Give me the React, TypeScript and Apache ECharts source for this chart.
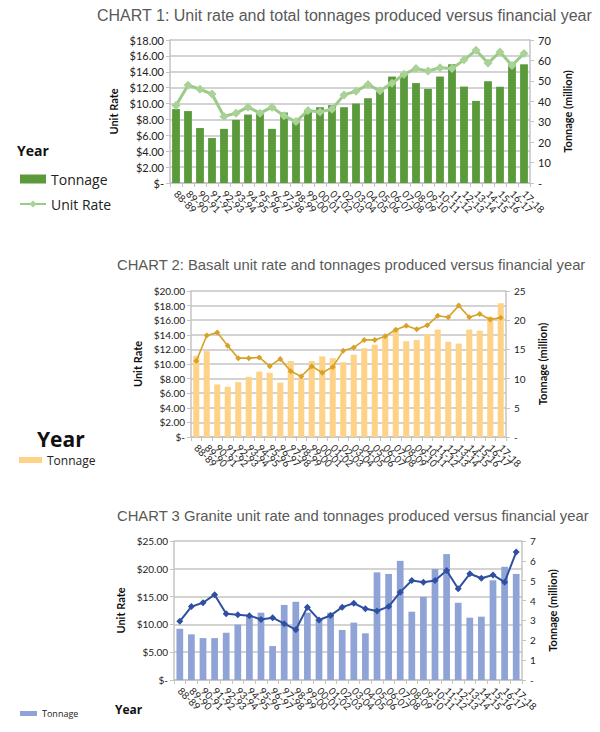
import React, { useEffect, useRef } from "react";
import * as echarts from "echarts";

const categories = [
  "88-89", "89-90", "90-91", "91-92", "92-93", "93-94", "94-95", "95-96", "96-97", "97-98",
  "98-99", "99-00", "00-01", "01-02", "02-03", "03-04", "04-05", "05-06", "06-07", "07-08",
  "08-09", "09-10", "10-11", "11-12", "12-13", "13-14", "14-15", "15-16", "16-17", "17-18",
];

const totalTonnage = [36.2, 35.2, 26.9, 22.0, 26.5, 30.9, 33.5, 33.9, 26.5, 34.5, 30.7, 35.5, 37.1, 38.1, 37.1, 38.9, 41.5, 44.8, 52.1, 53.7, 48.9, 46.1, 52.1, 58.1, 47.2, 40.2, 49.8, 47.1, 58.1, 58.1];
const totalRate = [9.75, 12.3, 11.8, 11.2, 8.37, 8.79, 9.54, 8.79, 9.54, 8.45, 7.74, 9.12, 8.95, 9.29, 11.09, 11.55, 12.4, 11.6, 12.55, 13.7, 14.4, 14.1, 14.5, 14.4, 15.5, 16.7, 15.1, 16.5, 14.8, 16.3];

const basaltTonnage = [13.9, 14.7, 9.0, 8.6, 9.4, 10.3, 11.2, 11.0, 9.3, 13.0, 10.0, 13.0, 13.8, 13.5, 12.8, 14.1, 15.2, 15.8, 17.1, 18.4, 16.4, 16.6, 17.6, 18.4, 16.3, 16.0, 18.4, 18.2, 20.6, 22.9];
const basaltRate = [10.4, 13.9, 14.3, 12.5, 10.8, 10.8, 10.9, 9.7, 10.7, 9.0, 8.3, 9.7, 8.8, 9.6, 11.8, 12.25, 13.3, 13.3, 13.8, 14.7, 15.25, 14.75, 15.3, 16.6, 16.4, 18.0, 16.4, 16.85, 16.1, 16.35];

const graniteTonnage = [2.58, 2.3, 2.11, 2.11, 2.38, 2.79, 3.22, 3.39, 1.71, 3.78, 3.94, 3.39, 3.05, 3.39, 2.52, 2.89, 2.35, 5.42, 5.34, 6.0, 3.44, 4.19, 5.59, 6.34, 3.89, 3.14, 3.19, 5.02, 5.7, 5.34];
const graniteRate = [10.55, 13.2, 13.9, 15.35, 11.9, 11.75, 11.57, 10.9, 11.2, 10.13, 9.05, 13.1, 10.8, 11.6, 13.1, 13.8, 12.8, 12.4, 13.2, 15.8, 17.9, 17.6, 17.9, 19.7, 16.4, 19.1, 18.3, 18.9, 17.6, 23.0];

const titles = [
  "CHART 1: Unit rate and total tonnages produced versus financial year",
  "CHART 2: Basalt unit rate and tonnages produced versus financial year",
  "CHART 3 Granite unit rate and tonnages produced versus financial year",
];

const LABEL_FONT = "Lato, 'Noto Sans', sans-serif";
const TITLE_FONT = "'Liberation Sans', Arial, sans-serif";
const GRID_COLOR = "#c4c4c4";

const dollar = (v: number) => (v === 0 ? "$-" : "$" + v.toFixed(2));
const dash = (v: number) => (v === 0 ? "-" : String(v));

function leftAxis(gridIndex: number, max: number, interval: number, nameGap: number, fontSize: number) {
  return {
    type: "value",
    gridIndex,
    min: 0,
    max,
    interval,
    name: "Unit Rate",
    nameLocation: "middle",
    nameRotate: 90,
    nameGap,
    nameTextStyle: { fontFamily: LABEL_FONT, fontWeight: "bold", fontSize: 11, color: "#111" },
    axisLine: { show: true, lineStyle: { color: GRID_COLOR, width: 1.5 } },
    axisTick: { show: true, length: 4, lineStyle: { color: GRID_COLOR } },
    splitLine: { show: true, lineStyle: { color: GRID_COLOR, width: 1.5 } },
    axisLabel: { formatter: dollar, fontFamily: LABEL_FONT, fontSize, color: "#222", margin: 6 },
  };
}

function rightAxis(gridIndex: number, max: number, interval: number, nameGap: number, fontSize: number) {
  return {
    type: "value",
    gridIndex,
    position: "right",
    min: 0,
    max,
    interval,
    name: "Tonnage (million)",
    nameLocation: "middle",
    nameRotate: 90,
    nameGap,
    nameTextStyle: { fontFamily: LABEL_FONT, fontWeight: "bold", fontSize: 11, color: "#111" },
    axisLine: { show: true, lineStyle: { color: GRID_COLOR, width: 1.5 } },
    axisTick: { show: true, length: 4, lineStyle: { color: GRID_COLOR } },
    splitLine: { show: false },
    axisLabel: { formatter: dash, fontFamily: LABEL_FONT, fontSize, color: "#222", margin: 8 },
  };
}

function catAxis(gridIndex: number) {
  return {
    type: "category",
    gridIndex,
    data: categories,
    boundaryGap: true,
    axisLine: { show: true, lineStyle: { color: GRID_COLOR, width: 1.5 } },
    axisTick: { show: true, length: 4, lineStyle: { color: GRID_COLOR } },
    axisLabel: { interval: 0, rotate: -45, fontFamily: LABEL_FONT, fontSize: 10, color: "#222", margin: 9 },
  };
}

export default function App() {
  const ref = useRef<HTMLDivElement>(null);

  useEffect(() => {
    if (!ref.current) return;
    const chart = echarts.init(ref.current, undefined, { renderer: "svg" });
    const option = {
      animation: false,
      backgroundColor: "#ffffff",
      title: [
        { text: titles[0], left: 97, top: 7, padding: 0, textStyle: { fontFamily: TITLE_FONT, fontSize: 16, fontWeight: "normal", color: "#595959" } },
        { text: titles[1], left: 117, top: 257, padding: 0, textStyle: { fontFamily: TITLE_FONT, fontSize: 14.8, fontWeight: "normal", color: "#595959" } },
        { text: titles[2], left: 117, top: 508, padding: 0, textStyle: { fontFamily: TITLE_FONT, fontSize: 14.8, fontWeight: "normal", color: "#595959" } },
      ],
      grid: [
        { left: 170, top: 40, width: 360, height: 143 },
        { left: 191, top: 291, width: 315, height: 146 },
        { left: 174, top: 541, width: 348, height: 139 },
      ],
      xAxis: [catAxis(0), catAxis(1), catAxis(2)],
      yAxis: [
        leftAxis(0, 18, 2, 48, 11),
        rightAxis(0, 70, 10, 30, 11),
        leftAxis(1, 20, 2, 42, 10),
        rightAxis(1, 25, 5, 28, 10),
        leftAxis(2, 25, 5, 44, 10),
        rightAxis(2, 7, 1, 25, 10),
      ],
      legend: [
        {
          orient: "vertical",
          left: 14,
          top: 167,
          itemWidth: 26,
          itemHeight: 9,
          itemGap: 11,
          data: [
            { name: "Tonnage", icon: "rect" },
            { name: "Unit Rate" },
          ],
          textStyle: { fontFamily: "'Open Sans', sans-serif", fontSize: 14, color: "#222" },
        },
        {
          orient: "vertical",
          left: 14,
          top: 449,
          itemWidth: 23,
          itemHeight: 6,
          data: [{ name: "Tonnage ", icon: "rect" }],
          textStyle: { fontFamily: "'Open Sans', sans-serif", fontSize: 12, color: "#222" },
        },
        {
          orient: "vertical",
          left: 15,
          top: 704,
          itemWidth: 17,
          itemHeight: 5,
          data: [{ name: "Tonnage  ", icon: "rect" }],
          textStyle: { fontFamily: "'Open Sans', sans-serif", fontSize: 9, color: "#222" },
        },
      ],
      graphic: [
        { type: "text", left: 17, top: 143, style: { text: "Year", font: "bold 14px 'Open Sans', sans-serif", fill: "#111" } },
        { type: "text", left: 37, top: 428, style: { text: "Year", font: "bold 21px 'Open Sans', sans-serif", fill: "#111" } },
        { type: "text", left: 115, top: 703, style: { text: "Year", font: "bold 12px 'Open Sans', sans-serif", fill: "#111" } },
      ],
      series: [
        {
          name: "Tonnage",
          type: "bar",
          xAxisIndex: 0,
          yAxisIndex: 1,
          data: totalTonnage,
          barWidth: "65%",
          itemStyle: { color: "#5b9a3a" },
        },
        {
          name: "Unit Rate",
          type: "line",
          xAxisIndex: 0,
          yAxisIndex: 0,
          data: totalRate,
          symbol: "diamond",
          symbolSize: 9,
          lineStyle: { color: "#9ccb88", width: 3 },
          itemStyle: { color: "#a9d296" },
        },
        {
          name: "Tonnage ",
          type: "bar",
          xAxisIndex: 1,
          yAxisIndex: 3,
          data: basaltTonnage,
          barWidth: "58%",
          itemStyle: { color: "#ffd387" },
        },
        {
          name: "Basalt Unit Rate",
          type: "line",
          xAxisIndex: 1,
          yAxisIndex: 2,
          data: basaltRate,
          symbol: "diamond",
          symbolSize: 6,
          lineStyle: { color: "#d6a227", width: 1.6 },
          itemStyle: { color: "#d6a227" },
        },
        {
          name: "Tonnage  ",
          type: "bar",
          xAxisIndex: 2,
          yAxisIndex: 5,
          data: graniteTonnage,
          barWidth: "58%",
          itemStyle: { color: "#8fa3d6" },
        },
        {
          name: "Granite Unit Rate",
          type: "line",
          xAxisIndex: 2,
          yAxisIndex: 4,
          data: graniteRate,
          symbol: "diamond",
          symbolSize: 7,
          lineStyle: { color: "#2f50a0", width: 2 },
          itemStyle: { color: "#2f50a0" },
        },
      ],
    };
    chart.setOption(option as any);
    return () => chart.dispose();
  }, []);

  return (
    <div
      ref={ref}
      style={{ position: "absolute", left: 0, top: 0, width: 600, height: 732, background: "#fff" }}
    />
  );
}
